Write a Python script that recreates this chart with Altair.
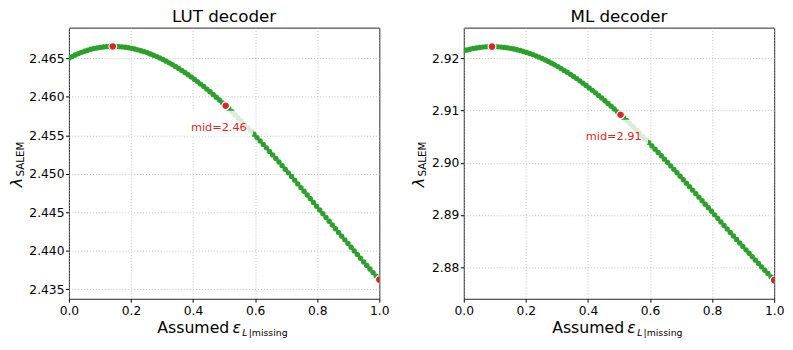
import altair as alt
import pandas as pd

FONT = "DejaVu Sans"
GREEN = "#2ca02c"
RED = "#d62728"

# assumed epsilon grid (100 evenly spaced points on [0, 1])
eps_grid = [round(k / 99, 6) for k in range(100)]

# lambda_SALEM values
lut_lambda = [
    2.46501, 2.46523, 2.46543, 2.46561, 2.46578, 2.46593, 2.46606, 2.46618, 2.46628, 2.46636,
    2.46643, 2.46648, 2.46652, 2.46654, 2.46655, 2.46654, 2.46652, 2.46649, 2.46644, 2.46638,
    2.46630, 2.46621, 2.46611, 2.46599, 2.46587, 2.46573, 2.46557, 2.46541, 2.46523, 2.46505,
    2.46485, 2.46464, 2.46442, 2.46419, 2.46395, 2.46369, 2.46343, 2.46316, 2.46288, 2.46259,
    2.46229, 2.46198, 2.46166, 2.46134, 2.46100, 2.46066, 2.46031, 2.45995, 2.45959, 2.45922,
    2.45884, 2.45845, 2.45806, 2.45766, 2.45726, 2.45684, 2.45643, 2.45601, 2.45558, 2.45515,
    2.45471, 2.45427, 2.45383, 2.45338, 2.45292, 2.45246, 2.45200, 2.45154, 2.45107, 2.45060,
    2.45013, 2.44966, 2.44918, 2.44870, 2.44822, 2.44774, 2.44725, 2.44677, 2.44628, 2.44580,
    2.44531, 2.44482, 2.44434, 2.44385, 2.44336, 2.44288, 2.44239, 2.44191, 2.44143, 2.44095,
    2.44047, 2.43999, 2.43952, 2.43904, 2.43857, 2.43811, 2.43764, 2.43718, 2.43672, 2.43627,
]
ml_lambda = [
    2.92144, 2.92161, 2.92176, 2.92189, 2.92200, 2.92209, 2.92216, 2.92221, 2.92224, 2.92225,
    2.92224, 2.92221, 2.92216, 2.92210, 2.92201, 2.92191, 2.92179, 2.92166, 2.92150, 2.92133,
    2.92114, 2.92094, 2.92072, 2.92048, 2.92023, 2.91997, 2.91969, 2.91939, 2.91908, 2.91876,
    2.91842, 2.91807, 2.91770, 2.91733, 2.91694, 2.91653, 2.91612, 2.91569, 2.91525, 2.91480,
    2.91434, 2.91387, 2.91339, 2.91290, 2.91240, 2.91188, 2.91136, 2.91083, 2.91029, 2.90975,
    2.90919, 2.90863, 2.90805, 2.90747, 2.90689, 2.90630, 2.90569, 2.90509, 2.90448, 2.90386,
    2.90323, 2.90260, 2.90197, 2.90133, 2.90069, 2.90004, 2.89939, 2.89873, 2.89808, 2.89741,
    2.89675, 2.89608, 2.89541, 2.89474, 2.89407, 2.89340, 2.89272, 2.89204, 2.89137, 2.89069,
    2.89001, 2.88934, 2.88866, 2.88798, 2.88731, 2.88663, 2.88596, 2.88529, 2.88462, 2.88396,
    2.88330, 2.88264, 2.88198, 2.88133, 2.88068, 2.88003, 2.87939, 2.87876, 2.87812, 2.87750,
]

x_ticks = [0.0, 0.2, 0.4, 0.6, 0.8, 1.0]
lut_y_ticks = [2.435, 2.440, 2.445, 2.450, 2.455, 2.460, 2.465]
ml_y_ticks = [2.88, 2.89, 2.90, 2.91, 2.92]
lut_y_domain = [2.43378, 2.46899]
ml_y_domain = [2.87393, 2.92589]

W, H = 316, 276


def text_layer(txt, x, y, size, style="normal", angle=0, align="left"):
    return alt.Chart(pd.DataFrame({"t": [txt]})).mark_text(
        font=FONT, fontSize=size, fontStyle=style, align=align,
        baseline="alphabetic", angle=angle, color="black",
    ).encode(x=alt.value(x), y=alt.value(y), text="t:N")


def panel(title, values, max_idx, y_domain, y_ticks, y_fmt, lam_x, sub_x):
    mid_idx = len(values) // 2
    df = pd.DataFrame({"eps": eps_grid, "lam": values})
    idx = [max_idx, mid_idx, len(values) - 1]
    red = pd.DataFrame({"eps": [eps_grid[i] for i in idx], "lam": [values[i] for i in idx]})
    mid = pd.DataFrame({"eps": [eps_grid[mid_idx]], "lam": [values[mid_idx]],
                        "label": [f"mid={values[mid_idx]:.2f}"]})

    xs = alt.Scale(domain=[0, 1], nice=False, zero=False)
    ys = alt.Scale(domain=y_domain, nice=False, zero=False)
    x_enc = alt.X("eps:Q", scale=xs,
                  axis=alt.Axis(values=x_ticks, format=".1f", title=None, labelPadding=3.0,
                                labelFlush=False))
    y_enc = alt.Y("lam:Q", scale=ys,
                  axis=alt.Axis(values=y_ticks, format=y_fmt, title=None, labelPadding=1.5,
                                labelFlush=False))

    green = alt.Chart(df).mark_circle(size=30, color=GREEN, opacity=1, clip=True).encode(x=x_enc, y=y_enc)
    reds = alt.Chart(red).mark_circle(size=62, color=RED, opacity=1, stroke="white",
                                      strokeWidth=1.2, clip=True).encode(x="eps:Q", y="lam:Q")
    box = alt.Chart(mid).mark_rect(color="white", opacity=0.82, cornerRadius=3,
                                   xOffset=-39, x2Offset=28, yOffset=5, y2Offset=31).encode(
        x="eps:Q", x2=alt.X2("eps"), y="lam:Q", y2=alt.Y2("lam"))
    lbl = alt.Chart(mid).mark_text(color=RED, font=FONT, fontSize=11.5, align="right",
                                   baseline="alphabetic", dx=21.5, dy=26).encode(
        x="eps:Q", y="lam:Q", text="label:N")

    texts = [
        text_layer(title, W / 2, -5.5, 17, align="center"),
        text_layer("Assumed", 90, 311.3, 16),
        text_layer("ε", 166.5, 311.3, 16, "italic"),
        text_layer("L", 176.5, 313.5, 9.5, "italic"),
        text_layer("|missing", 183.0, 313.5, 9.5),
        text_layer("λ", lam_x, 162.5, 16, "italic", 270),
        text_layer("SALEM", sub_x, 151.5, 10.5, "normal", 270),
    ]
    return alt.layer(green, reds, box, lbl, *texts).properties(width=W, height=H)


left = panel("LUT decoder", lut_lambda, 14, lut_y_domain, lut_y_ticks, ".3f", -48.0, -45.5)
right = panel("ML decoder", ml_lambda, 9, ml_y_domain, ml_y_ticks, ".2f", -40.5, -38.0)

chart = alt.hconcat(left, right, spacing=21).properties(
    padding={"left": 0, "top": -3, "right": 0, "bottom": 0}
).configure_view(stroke="#222222", strokeWidth=1).configure_axis(
    labelFont=FONT, labelFontSize=12.5, labelColor="black", tickColor="black",
    tickSize=3.5, tickWidth=1, domain=False, grid=True, gridColor="#b0b0b0",
    gridDash=[1, 2], gridWidth=0.8,
)

chart.save("out.html", embed_options={"renderer": "svg", "actions": False})
